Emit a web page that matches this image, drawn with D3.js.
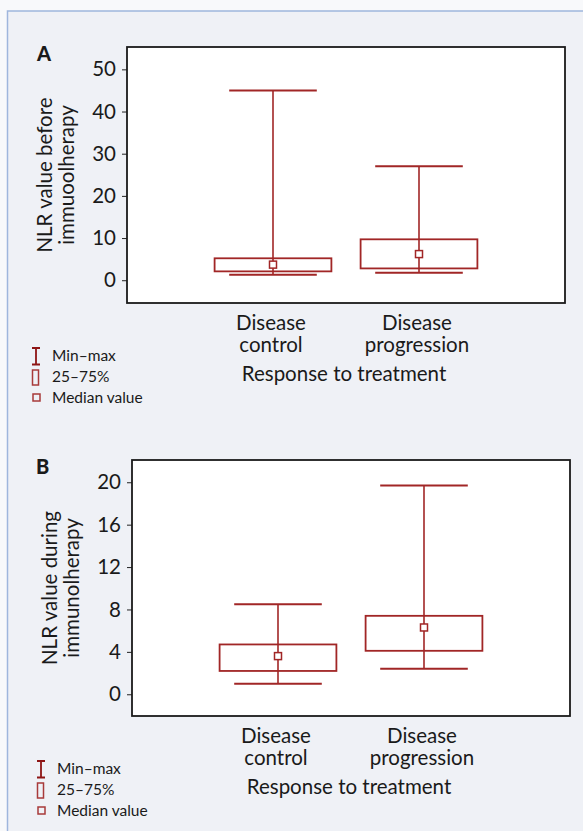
<!DOCTYPE html>
<html>
<head>
<meta charset="utf-8">
<script src="https://cdn.jsdelivr.net/npm/d3@7"></script>
<style>
  html, body { margin: 0; padding: 0; background: #f8f9fb; }
  svg { display: block; }
  text { font-family: Lato, "Open Sans", sans-serif; fill: #1a1a1a; }
</style>
</head>
<body>
<svg width="583" height="831"></svg>
<script>
const width = 583;
const height = 831;

// categories on the x axis
const categories = ["Disease control", "Disease progression"];
const categoryLines = [["Disease", "control"], ["Disease", "progression"]];

// panel A: NLR before immunotherapy
const beforeMin = [1.3, 1.8];
const beforeQ1 = [2.1, 2.8];
const beforeMedian = [3.7, 6.2];
const beforeQ3 = [5.2, 9.7];
const beforeMax = [45.0, 27.0];
const beforeTicks = [0, 10, 20, 30, 40, 50];

// panel B: NLR during immunotherapy
const duringMin = [1.0, 2.4];
const duringQ1 = [2.2, 4.1];
const duringMedian = [3.6, 6.3];
const duringQ3 = [4.7, 7.4];
const duringMax = [8.5, 19.7];
const duringTicks = [0, 4, 8, 12, 16, 20];

const legendItems = ["Min\u2013max", "25\u201375%", "Median value"];

const red = "#a12626";

const svg = d3.select("svg")
    .attr("viewBox", [0, 0, width, height]);

// outer panel background with its light blue border
svg.append("rect")
    .attr("x", 7.5).attr("y", 11)
    .attr("width", width).attr("height", height)
    .attr("fill", "#eff1f6");
svg.append("path")
    .attr("d", `M7.5,${height}V11H${width}`)
    .attr("fill", "none")
    .attr("stroke", "#9fb6dd")
    .attr("stroke-width", 1.5);

function drawPanel(opts) {
    const w = 438, h = 256;
    const g = svg.append("g")
        .attr("transform", `translate(${opts.left},${opts.top})`);

    const x = d3.scalePoint()
        .domain(categories)
        .range([0, w])
        .padding(1);
    const step = x.step();

    const y = d3.scaleLinear()
        .domain(opts.domain)
        .range([h, 0]);

    // plot area
    g.append("rect")
        .attr("width", w).attr("height", h)
        .attr("fill", "#fff");

    // y axis
    const axis = g.append("g")
        .call(d3.axisLeft(y).tickValues(opts.ticks).tickSize(5).tickPadding(6));
    axis.select(".domain").remove();
    axis.selectAll("line").attr("stroke", "#222");
    axis.selectAll("text")
        .attr("font-size", 20.5)
        .attr("font-family", "Lato, 'Open Sans', sans-serif")
        .attr("fill", "#1a1a1a");

    const rows = categories.map((c, i) => ({
        c: c, min: opts.min[i], q1: opts.q1[i], med: opts.median[i], q3: opts.q3[i], max: opts.max[i]
    }));

    const marks = g.append("g");
    const boxW = step * 0.8, capW = step * 0.6, medS = 7;

    // whiskers
    marks.selectAll(".whisker")
        .data(rows)
        .join("line")
        .attr("x1", d => x(d.c)).attr("x2", d => x(d.c))
        .attr("y1", d => y(d.min)).attr("y2", d => y(d.max))
        .attr("stroke", red).attr("stroke-width", 1.6);

    // caps
    marks.selectAll(".capTop")
        .data(rows)
        .join("line")
        .attr("x1", d => x(d.c) - capW / 2).attr("x2", d => x(d.c) + capW / 2)
        .attr("y1", d => y(d.max)).attr("y2", d => y(d.max))
        .attr("stroke", red).attr("stroke-width", 2);
    marks.selectAll(".capBottom")
        .data(rows)
        .join("line")
        .attr("x1", d => x(d.c) - capW / 2).attr("x2", d => x(d.c) + capW / 2)
        .attr("y1", d => y(d.min)).attr("y2", d => y(d.min))
        .attr("stroke", red).attr("stroke-width", 2);

    // 25-75% boxes
    marks.selectAll(".box")
        .data(rows)
        .join("rect")
        .attr("x", d => x(d.c) - boxW / 2)
        .attr("width", boxW)
        .attr("y", d => y(d.q3))
        .attr("height", d => y(d.q1) - y(d.q3))
        .attr("fill", "none")
        .attr("stroke", red).attr("stroke-width", 1.8);

    // median squares
    marks.selectAll(".median")
        .data(rows)
        .join("rect")
        .attr("x", d => x(d.c) - medS / 2)
        .attr("y", d => y(d.med) - medS / 2)
        .attr("width", medS).attr("height", medS)
        .attr("fill", "#fff")
        .attr("stroke", red).attr("stroke-width", 1.5);

    // frame
    g.append("rect")
        .attr("width", w).attr("height", h)
        .attr("fill", "none")
        .attr("stroke", "#1a1a1a")
        .attr("stroke-width", 1.8);

    // panel letter
    svg.append("text")
        .attr("x", opts.letterX).attr("y", opts.letterY)
        .attr("font-size", 20).attr("font-weight", 900)
        .text(opts.letter);

    // y title, two lines
    const yt = g.append("text")
        .attr("transform", `translate(-75,${h / 2}) rotate(-90)`)
        .attr("text-anchor", "middle")
        .attr("font-size", 20.5);
    yt.selectAll("tspan")
        .data(opts.yTitle)
        .join("tspan")
        .attr("x", 0)
        .attr("y", (d, i) => i * 22)
        .text(d => d);

    // category labels
    const cl = g.append("g")
        .selectAll("text")
        .data(categories)
        .join("text")
        .attr("text-anchor", "middle")
        .attr("font-size", 20.5);
    cl.selectAll("tspan")
        .data((d, i) => categoryLines[i].map(t => ({ t: t, c: d })))
        .join("tspan")
        .attr("x", d => x(d.c) - 2)
        .attr("y", (d, i) => h + 27 + i * 22)
        .text(d => d.t);

    g.append("text")
        .attr("x", w / 2 - 2)
        .attr("y", h + 78)
        .attr("text-anchor", "middle")
        .attr("font-size", 20.5)
        .text("Response to treatment");

    // legend
    const lg = g.append("g")
        .attr("transform", `translate(-91,${h})`);
    const ly = [57.5, 78.5, 99.5];
    lg.selectAll("text")
        .data(legendItems)
        .join("text")
        .attr("x", 16)
        .attr("y", (d, i) => ly[i])
        .attr("font-size", 15.5)
        .text(d => d);
    // min-max icon
    lg.append("path")
        .attr("d", `M-4,${ly[0] - 12.5}H4M0,${ly[0] - 12.5}V${ly[0] + 4}M-4,${ly[0] + 4}H4`)
        .attr("fill", "none")
        .attr("stroke", "#8e1515").attr("stroke-width", 1.8);
    // box icon
    lg.append("rect")
        .attr("x", -3.5).attr("y", ly[1] - 11.5)
        .attr("width", 6).attr("height", 15)
        .attr("fill", "none")
        .attr("stroke", "#a83a3a").attr("stroke-width", 1.5);
    // median icon
    lg.append("rect")
        .attr("x", -3).attr("y", ly[2] - 8.5)
        .attr("width", 7).attr("height", 7)
        .attr("fill", "none")
        .attr("stroke", "#a83a3a").attr("stroke-width", 1.5);
}

drawPanel({
    left: 127, top: 47,
    domain: [-5.4, 55.3], ticks: beforeTicks,
    min: beforeMin, q1: beforeQ1, median: beforeMedian, q3: beforeQ3, max: beforeMax,
    letter: "A", letterX: 37, letterY: 61,
    yTitle: ["NLR value before", "immuoolherapy"]
});

drawPanel({
    left: 132, top: 460,
    domain: [-2.05, 22.1], ticks: duringTicks,
    min: duringMin, q1: duringQ1, median: duringMedian, q3: duringQ3, max: duringMax,
    letter: "B", letterX: 36, letterY: 474,
    yTitle: ["NLR value during", "immunolherapy"]
});
</script>
</body>
</html>
